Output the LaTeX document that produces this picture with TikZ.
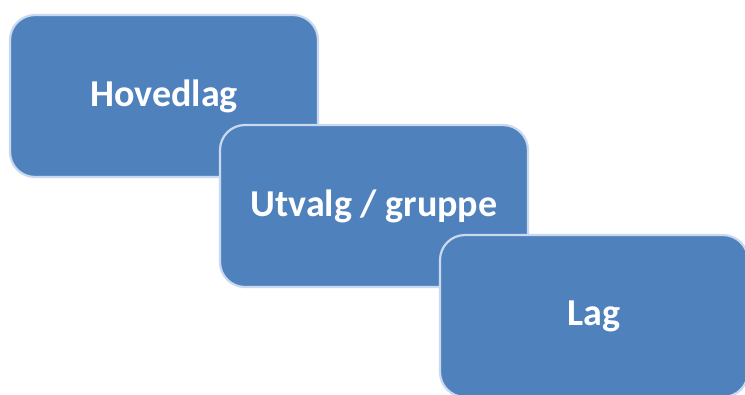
\documentclass[tikz,border=0pt]{standalone}
\usepackage{fontspec}
\setmainfont{Carlito}
\usepackage{xcolor}
\definecolor{layerFill}{HTML}{4F81BD}
\definecolor{layerEdge}{HTML}{C9DAF0}
\usetikzlibrary{positioning}
\tikzset{%
  layerBox/.style={%
    rectangle,
    rounded corners=25pt,
    draw=layerEdge,
    line width=2.2pt,
    outer sep=0pt,
    fill=layerFill,
    text=white,
    font=\fontsize{38}{44}\selectfont\bfseries,
    minimum width=308pt,
    minimum height=162pt,
    align=center
  }
}
\begin{document}
\begin{tikzpicture}
  \useasboundingbox (0,0) rectangle (745pt,-394pt);
  \clip (0,0) rectangle (745pt,-394pt);
  \node[layerBox, anchor=north west] (hoved) at (10pt,-15pt) {Hovedlag};
  \node[layerBox, below right=-52pt and -98pt of hoved] (utvalg) {Utvalg / gruppe};
  \node[layerBox, below right=-52pt and -88pt of utvalg] (lag) {Lag};
\end{tikzpicture}
\end{document}
